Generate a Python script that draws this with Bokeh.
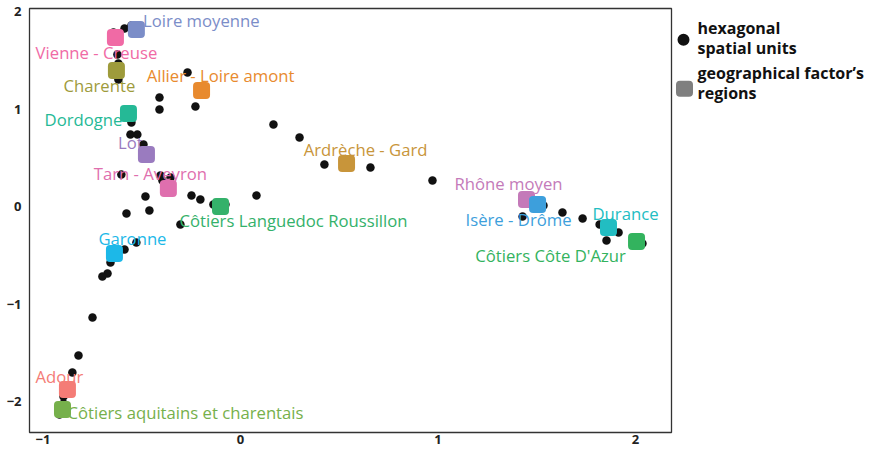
from bokeh.plotting import figure
from bokeh.layouts import row
from bokeh.models import ColumnDataSource, Range1d, FixedTicker
from bokeh.core.properties import value
from bokeh.embed import file_html
from bokeh.resources import INLINE

# ---- data: hexagonal spatial units (factor coordinates) ----
hex_x = [-0.643, -0.587, -0.552, -0.623, -0.618, -0.618, -0.268, -0.203, -0.410, -0.410,
         -0.228, -0.552, -0.557, -0.522, -0.491, -0.603, -0.405, -0.395, -0.354, -0.481,
         -0.248, -0.203, -0.137, -0.076, 0.081, -0.577, -0.461, -0.304, 0.167, 0.299,
         0.425, 0.658, 0.972, 1.428, 1.534, 1.630, 1.428, 1.732, 1.818, 1.914,
         1.853, 2.035, -0.527, -0.587, -0.658, -0.673, -0.699, -0.749, -0.820, -0.851,
         -0.896, -0.896, -0.916]
hex_y = [1.785, 1.826, 1.856, 1.559, 1.467, 1.303, 1.374, 1.231, 1.118, 0.995,
         1.026, 0.862, 0.738, 0.738, 0.636, 0.328, 0.318, 0.267, 0.297, 0.103,
         0.113, 0.072, 0.021, 0.021, 0.113, -0.072, -0.041, -0.185, 0.841, 0.708,
         0.431, 0.400, 0.267, 0.072, 0.010, -0.062, -0.103, -0.123, -0.185, -0.267,
         -0.349, -0.379, -0.369, -0.441, -0.574, -0.687, -0.718, -1.138, -1.528, -1.703,
         -1.949, -2.021, -2.133]

# ---- data: geographical factor's regions ----
region_names = ["Loire moyenne", "Vienne - Creuse", "Charente", "Allier - Loire amont",
                "Dordogne", "Lot", "Tarn - Aveyron", "Côtiers Languedoc Roussillon",
                "Ardrèche - Gard", "Rhône moyen", "Isère - Drôme", "Durance",
                "Côtiers Côte D'Azur", "Garonne", "Adour", "Côtiers aquitains et charentais"]
region_x = [-0.527, -0.633, -0.628, -0.197, -0.567, -0.476, -0.365, -0.101,
            0.537, 1.448, 1.504, 1.863, 2.005, -0.638, -0.876, -0.901]
region_y = [1.815, 1.733, 1.395, 1.190, 0.954, 0.533, 0.185, 0.000,
            0.441, 0.072, 0.021, -0.215, -0.359, -0.482, -1.877, -2.082]
region_colors = ["#7b8dc8", "#f06aa5", "#9e9b3b", "#e88a2e", "#25b996", "#9a7bbf",
                 "#df6fae", "#34b16a", "#c8953a", "#c47ab9", "#3d9fdc", "#22bdc2",
                 "#33b35e", "#1cb8e8", "#f47c76", "#76b04b"]

x_ticks = [-1, 0, 1, 2]
y_ticks = [-2, -1, 0, 1, 2]
x_tick_labels = ["\u22121", "0", "1", "2"]
y_tick_labels = ["\u22122", "\u22121", "0", "1", "2"]

legend_labels = [["hexagonal", "spatial units"], ["geographical factor\u2019s", "regions"]]

# ---- layout (screen-pixel offsets of labels from their region marker) ----
label_dx = [65, -19, -17, 19, -45, -16, -18, 73, 19, -18, -19, 17, -86, 18, -8, 123]
label_dy = [-9, 15, 15, -15, 6, -12, -15, 14, -14, -16, 15, -14, 14, -15, -13, 3]

FONT = "Open Sans"

p = figure(width=674, height=449,
           x_range=Range1d(-1.068, 2.182), y_range=Range1d(-2.318, 2.031),
           output_backend="svg", toolbar_location=None,
           min_border_left=29, min_border_right=3, min_border_top=8, min_border_bottom=17)
p.grid.visible = False
p.outline_line_color = "#333333"
p.outline_line_width = 1.3
p.background_fill_color = "white"
p.border_fill_color = "white"

for ax in (p.xaxis, p.yaxis):
    ax.axis_line_color = None
    ax.major_tick_line_color = None
    ax.minor_tick_line_color = None
    ax.major_label_text_font = FONT
    ax.major_label_text_font_size = "13px"
    ax.major_label_text_font_style = "bold"
    ax.major_label_text_color = "#222222"
    ax.major_tick_out = 0
    ax.major_tick_in = 0
p.xaxis.ticker = FixedTicker(ticks=x_ticks)
p.yaxis.ticker = FixedTicker(ticks=y_ticks)
p.xaxis.major_label_overrides = {t: l for t, l in zip(x_ticks, x_tick_labels)}
p.yaxis.major_label_overrides = {t: l for t, l in zip(y_ticks, y_tick_labels)}
p.xaxis.major_label_standoff = 2
p.yaxis.major_label_standoff = 8

p.scatter(hex_x, hex_y, size=8.5, color="#111111", line_color=None)

src = ColumnDataSource(dict(x=region_x, y=region_y, name=region_names, color=region_colors,
                            dx=label_dx, dy=label_dy))
p.rect("x", "y", width=17, height=17, width_units="screen", height_units="screen",
       fill_color="color", line_color=None, border_radius=4, source=src)
p.text("x", "y", text="name", x_offset="dx", y_offset="dy", text_color="color",
       text_align="center", text_baseline="middle", text_font=value(FONT),
       text_font_size="16.7px", source=src)

# ---- legend panel ----
leg = figure(width=196, height=449, x_range=Range1d(0, 196), y_range=Range1d(449, 0),
             output_backend="svg", toolbar_location=None,
             min_border=0)
leg.axis.visible = False
leg.grid.visible = False
leg.outline_line_color = None
leg.scatter([9], [33], size=12, color="#111111", line_color=None)
leg.rect([10], [85], width=17, height=17, fill_color="#7f7f7f", line_color=None,
         border_radius=4)
lx, ly, lt = [], [], []
for i, lines in enumerate(legend_labels):
    base = [21, 68][i]
    for j, t in enumerate(lines):
        lx.append(23)
        ly.append(base + 21 * j)
        lt.append(t)
leg.text(lx, ly, text=lt, text_align="left", text_baseline="middle",
         text_font=value(FONT), text_font_style="bold", text_font_size="16px",
         text_color="#111111")

layout = row(p, leg)
open("out.html", "w").write(file_html(layout, INLINE))
